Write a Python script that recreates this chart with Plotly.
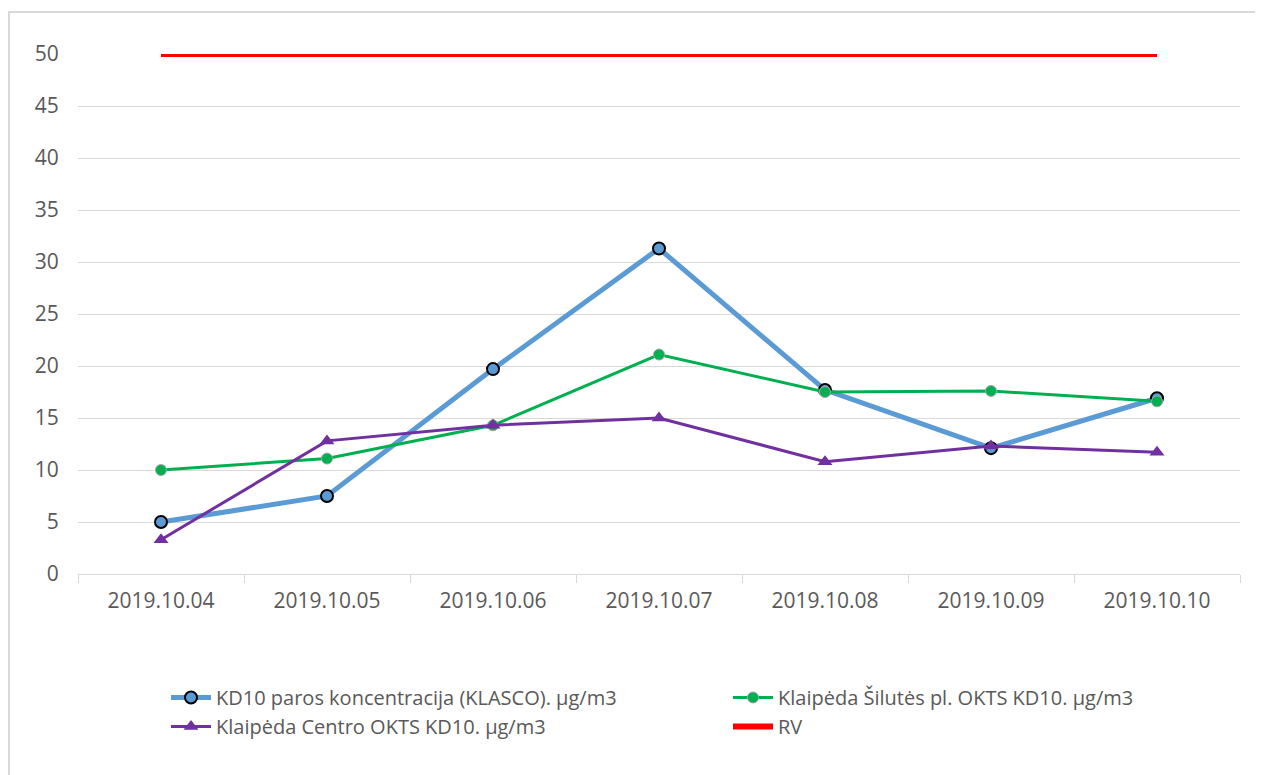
import plotly.graph_objects as go

dates = ["2019.10.04", "2019.10.05", "2019.10.06", "2019.10.07", "2019.10.08", "2019.10.09", "2019.10.10"]
klasco = [5.0, 7.5, 19.7, 31.3, 17.7, 12.1, 16.9]
silutes = [10.0, 11.1, 14.3, 21.1, 17.5, 17.6, 16.6]
centro = [3.3, 12.8, 14.3, 15.0, 10.8, 12.3, 11.7]
rv = [50, 50, 50, 50, 50, 50, 50]

names = ["KD10 paros koncentracija (KLASCO). µg/m3",
         "Klaipėda Šilutės pl. OKTS KD10. µg/m3",
         "Klaipėda Centro OKTS KD10. µg/m3",
         "RV"]

# the page body adds an 8 px margin, so the figure is sized to fit the window
W, H = 1255, 767
L, R, T, B = 70, 23, 46, 201
pw = W - L - R
ph = H - T - B

fig = go.Figure()
fig.add_trace(go.Scatter(x=dates, y=klasco, name=names[0], mode="lines+markers",
                         line=dict(color="#5b9bd5", width=5),
                         marker=dict(symbol="circle", size=12, color="#5b9bd5",
                                     line=dict(color="black", width=2))))
fig.add_trace(go.Scatter(x=dates, y=silutes, name=names[1], mode="lines+markers",
                         line=dict(color="#00b050", width=3),
                         marker=dict(symbol="circle", size=11, color="#00b050",
                                     line=dict(color="#a6a6a6", width=1))))
fig.add_trace(go.Scatter(x=dates, y=centro, name=names[2], mode="lines+markers",
                         line=dict(color="#7030a0", width=3),
                         marker=dict(symbol="triangle-up", size=13, color="#7030a0")))
fig.add_trace(go.Scatter(x=dates, y=rv, name=names[3], mode="lines",
                         line=dict(color="#ff0000", width=6)))

font = "Open Sans, Liberation Sans, sans-serif"

fig.update_layout(
    width=W, height=H,
    margin=dict(l=L, r=R, t=T, b=B, autoexpand=False),
    paper_bgcolor="white", plot_bgcolor="white",
    font=dict(family=font, color="#595959", size=20),
    xaxis=dict(type="category", showgrid=False, showline=True, linecolor="#d9d9d9",
               linewidth=1, ticks="outside", tickson="boundaries", ticklen=8,
               tickcolor="#d9d9d9", tickfont=dict(size=21, color="#595959"),
               ticklabelstandoff=8,
               range=[-0.5, 6.5], zeroline=False),
    yaxis=dict(range=[0, 50], dtick=5, showgrid=True, gridcolor="#d9d9d9", gridwidth=1,
               zeroline=False, showline=False, ticks="outside", ticklen=14,
               tickcolor="rgba(0,0,0,0)",
               tickfont=dict(size=21, color="#595959")),
    legend=dict(orientation="h", x=(158 - L) / pw, xanchor="left",
                y=-(670 - T - ph) / ph, yanchor="top",
                entrywidth=507, entrywidthmode="pixels",
                bgcolor="rgba(0,0,0,0)",
                font=dict(size=20, color="#595959"), tracegroupgap=0,
                itemwidth=40),
    showlegend=True,
)

fig.update_layout(shapes=[dict(type="rect", xref="paper", yref="paper",
                               x0=(1 - L) / pw, x1=(2000 - L) / pw,
                               y0=-(1500 - T - ph) / ph, y1=(T + ph - 4) / ph,
                               line=dict(color="#d9d9d9", width=2), layer="below")])

fig.write_html("out.html")
